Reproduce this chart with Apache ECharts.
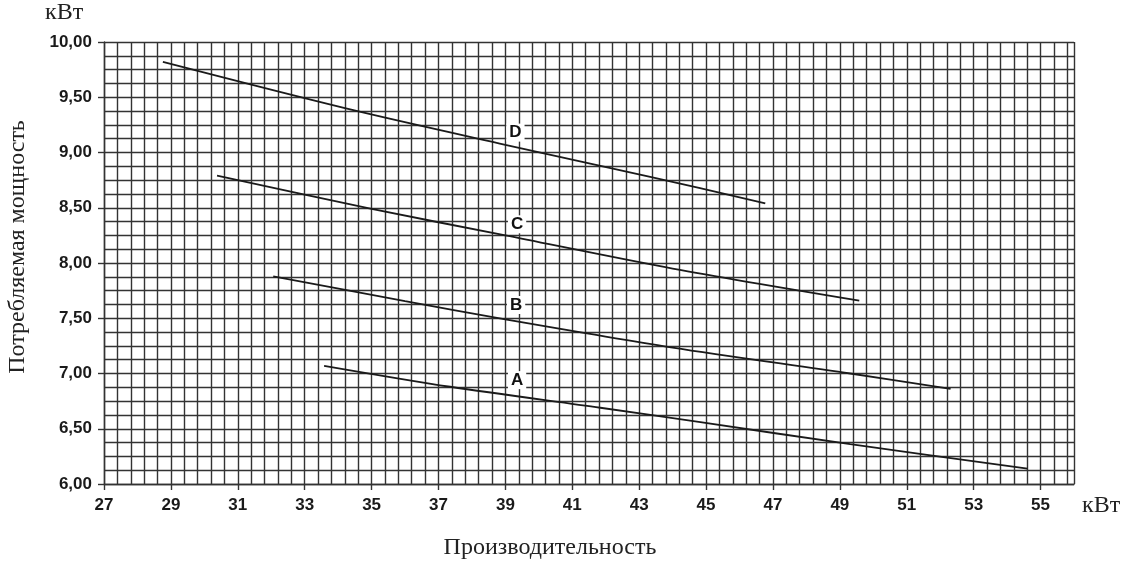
<!DOCTYPE html>
<html>
<head>
<meta charset="utf-8">
<script src="https://cdn.jsdelivr.net/npm/echarts@6/dist/echarts.min.js"></script>
<style>html,body{margin:0;padding:0;background:#fff}#c{width:1132px;height:564px}</style>
</head>
<body>
<div id="c"></div>
<script>
// Tick labels
const xTickValues = [27, 29, 31, 33, 35, 37, 39, 41, 43, 45, 47, 49, 51, 53, 55];
const yTickValues = [6.0, 6.5, 7.0, 7.5, 8.0, 8.5, 9.0, 9.5, 10.0];
// Curves [производительность, мощность]
const curveD = [[28.76, 9.82], [34.36, 9.39], [39.0, 9.07], [43.33, 8.78], [46.77, 8.54]];
const curveC = [[30.38, 8.79], [35.0, 8.49], [39.0, 8.25], [44.0, 7.95], [49.58, 7.66]];
const curveB = [[32.06, 7.88], [36.0, 7.655], [39.0, 7.49], [44.0, 7.235], [49.31, 7.0], [52.31, 6.86]];
const curveA = [[33.58, 7.07], [37.35, 6.88], [41.84, 6.69], [44.83, 6.56], [49.31, 6.36], [54.61, 6.14]];
const curveNames = ['D', 'C', 'B', 'A'];
const curveLabelPos = [[39.3, 9.18], [39.35, 8.35], [39.32, 7.62], [39.35, 6.94]];

const chart = echarts.init(document.getElementById('c'));
const lineStyle = {color: '#1a1a1a', width: 1.8};
const curves = [curveD, curveC, curveB, curveA];
const series = curves.map((d, i) => ({
  type: 'line', data: d, smooth: 0.3, showSymbol: false, symbol: 'none',
  lineStyle: lineStyle, silent: true, z: 3
}));
series.push({
  type: 'scatter', symbolSize: 0, z: 5, silent: true,
  itemStyle: {color: '#fff', opacity: 1},
  data: curveLabelPos.map((p, i) => ({value: p, name: curveNames[i]})),
  label: {
    show: true, position: 'inside', formatter: p => p.name, opacity: 1,
    fontFamily: 'Liberation Sans, Arial, sans-serif', fontWeight: 'bold', fontSize: 17,
    color: '#111', textBorderWidth: 0, textBorderColor: 'transparent',
    backgroundColor: '#fff', padding: [1, 3, 0, 3]
  }
});
const serif = 'Liberation Serif, Times New Roman, serif';
const sans = 'Liberation Sans, Arial, sans-serif';
const gridLine = {show: true, lineStyle: {color: '#333', width: 1.4}};
chart.setOption({
  animation: false,
  backgroundColor: '#fff',
  grid: {left: 104, top: 42, right: 58, bottom: 80},
  xAxis: [{
    type: 'value', min: 27, max: 56, interval: 0.4, z: 1,
    axisLine: {show: false}, axisTick: {show: false}, axisLabel: {show: false},
    splitLine: gridLine
  }, {
    type: 'value', min: 27, max: 56, interval: 2, position: 'bottom', z: 2,
    axisLine: {show: true, onZero: false, lineStyle: {color: '#333', width: 1.4}},
    axisTick: {show: true, customValues: xTickValues, length: 6, lineStyle: {color: '#333', width: 1.4}},
    axisLabel: {
      customValues: xTickValues, margin: 13,
      fontFamily: sans, fontWeight: 'bold', fontSize: 17, color: '#1a1a1a',
      formatter: v => String(Math.round(v))
    },
    splitLine: {show: false}
  }],
  yAxis: [{
    type: 'value', min: 6, max: 10, interval: 0.125, z: 1,
    axisLine: {show: false}, axisTick: {show: false}, axisLabel: {show: false},
    splitLine: gridLine
  }, {
    type: 'value', min: 6, max: 10, interval: 0.5, position: 'left', z: 2,
    axisLine: {show: true, onZero: false, lineStyle: {color: '#333', width: 1.4}},
    axisTick: {show: true, customValues: yTickValues, length: 6, lineStyle: {color: '#333', width: 1.4}},
    axisLabel: {
      customValues: yTickValues, margin: 12,
      fontFamily: sans, fontWeight: 'bold', fontSize: 17, color: '#1a1a1a',
      formatter: v => v.toFixed(2).replace('.', ',')
    },
    splitLine: {show: false}
  }],
  graphic: [
    {type: 'text', left: 45, top: 1, style: {text: 'кВт', font: '24px ' + serif, fill: '#222'}},
    {type: 'text', left: 1082, top: 494, style: {text: 'кВт', font: '24px ' + serif, fill: '#222'}},
    {type: 'text', x: 550, y: 548, style: {text: 'Производительность', font: '24px ' + serif, fill: '#222', align: 'center', verticalAlign: 'middle'}},
    {type: 'text', x: 18, y: 247, rotation: Math.PI / 2, style: {text: 'Потребляемая мощность', font: '24px ' + serif, fill: '#222', align: 'center', verticalAlign: 'middle'}}
  ],
  series: series.map(s => Object.assign(s, {xAxisIndex: 0, yAxisIndex: 0}))
});
</script>
</body>
</html>
